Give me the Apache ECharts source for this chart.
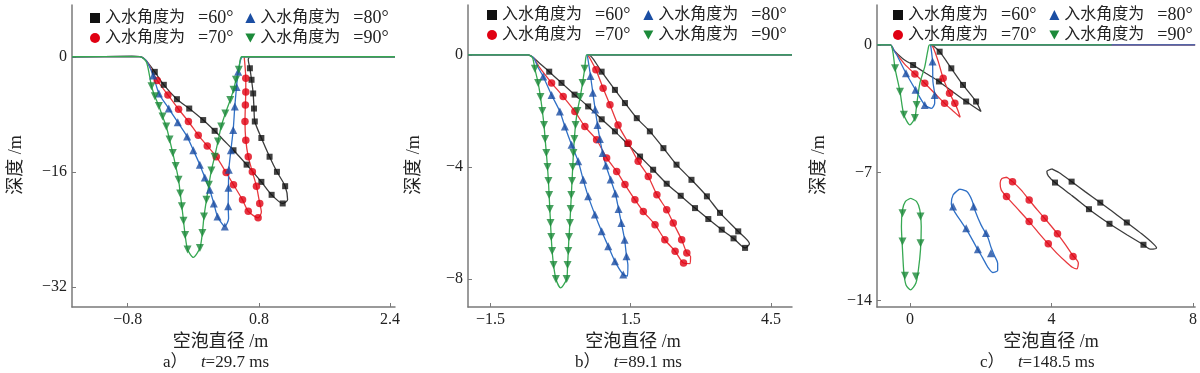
<!DOCTYPE html>
<html><head><meta charset="utf-8">
<script src="https://cdn.jsdelivr.net/npm/echarts@6/dist/echarts.min.js"></script>
<style>html,body{margin:0;padding:0;background:#fff}#c{width:1200px;height:373px}</style>
</head><body><div id="c"></div>
<script>
// ---------- tick labels ----------
const xTicksA = [-0.8, 0.8, 2.4];
const yTicksA = [0, -16, -32];
const xTicksB = [-1.5, 1.5, 4.5];
const yTicksB = [0, -4, -8];
const xTicksC = [0, 4, 8];
const yTicksC = [0, -7, -14];

const seriesNames = ['入水角度为 =60°', '入水角度为 =70°', '入水角度为 =80°', '入水角度为 =90°'];
const captions = ['a）', 'b）', 'c）'];
const times = ['29.7', '89.1', '148.5'];

// ---------- panel a: t = 29.7 ms ----------
const a60Line = [[-1.48,0],[-0.75,0.05],[-0.64,0],[-0.57,-0.6],[-0.47,-2.1],[-0.36,-3.9],[-0.2,-5.9],[-0.05,-7.2],[0.12,-8.8],[0.26,-10.3],[0.37,-11.6],[0.49,-13.0],[0.65,-15.0],[0.83,-17.4],[0.955,-19.2],[1.09,-20.4],[1.15,-19.9],[1.12,-18.0],[1.02,-16.0],[0.93,-13.9],[0.83,-11.3],[0.75,-9.0],[0.74,-7.2],[0.73,-5.1],[0.71,-3.2],[0.69,-1.6],[0.67,-0.4],[0.69,0],[2.46,0]];
const a60Marks = [[-0.47,-2.1],[-0.36,-3.9],[-0.2,-5.9],[-0.05,-7.2],[0.12,-8.8],[0.26,-10.3],[0.49,-13.0],[0.65,-15.0],[0.83,-17.4],[0.955,-19.2],[1.09,-20.4],[1.12,-18.0],[1.02,-16.0],[0.93,-13.9],[0.83,-11.3],[0.75,-9.0],[0.74,-7.2],[0.73,-5.1],[0.71,-3.2],[0.69,-1.6]];
const a70Line = [[-1.48,0],[-0.75,0.05],[-0.64,0],[-0.57,-0.6],[-0.44,-3.3],[-0.31,-5.3],[-0.18,-7.3],[-0.06,-9.0],[0.06,-10.9],[0.17,-12.4],[0.28,-13.9],[0.4,-16.1],[0.49,-17.8],[0.6,-19.9],[0.67,-21.5],[0.79,-22.4],[0.83,-21.6],[0.81,-20.4],[0.77,-18.0],[0.72,-16.0],[0.67,-13.9],[0.64,-11.6],[0.63,-9.0],[0.635,-6.7],[0.64,-4.9],[0.64,-3.0],[0.63,-1.2],[0.62,0],[2.46,0]];
const a70Marks = [[-0.44,-3.3],[-0.31,-5.3],[-0.18,-7.3],[-0.06,-9.0],[0.06,-10.9],[0.17,-12.4],[0.28,-13.9],[0.4,-16.1],[0.49,-17.8],[0.6,-19.9],[0.67,-21.5],[0.79,-22.4],[0.81,-20.4],[0.77,-18.0],[0.72,-16.0],[0.67,-13.9],[0.64,-11.6],[0.63,-9.0],[0.635,-6.7],[0.64,-4.9],[0.64,-3.0]];
const a80Line = [[-1.48,0],[-0.75,0.05],[-0.64,0],[-0.57,-0.6],[-0.49,-2.6],[-0.42,-5.1],[-0.3,-7.2],[-0.19,-9.1],[-0.076,-11.1],[0.0,-13.0],[0.079,-15.0],[0.14,-16.8],[0.2,-18.5],[0.25,-20.4],[0.295,-22.2],[0.384,-23.6],[0.43,-22.5],[0.425,-20.8],[0.428,-18.2],[0.433,-15.7],[0.458,-13.0],[0.486,-10.2],[0.506,-6.9],[0.527,-4.2],[0.547,-2.1],[0.575,-0.5],[0.6,0],[2.46,0]];
const a80Marks = [[-0.49,-2.6],[-0.42,-5.1],[-0.3,-7.2],[-0.19,-9.1],[-0.076,-11.1],[0.0,-13.0],[0.079,-15.0],[0.14,-16.8],[0.2,-18.5],[0.25,-20.4],[0.295,-22.2],[0.384,-23.6],[0.425,-20.8],[0.428,-18.2],[0.433,-15.7],[0.458,-13.0],[0.486,-10.2],[0.506,-6.9],[0.527,-4.2],[0.547,-2.1]];
const a90Line = [[-1.48,0],[-0.75,0.05],[-0.64,0],[-0.57,-0.8],[-0.51,-4.1],[-0.47,-5.5],[-0.42,-6.85],[-0.375,-8.3],[-0.33,-9.7],[-0.29,-11.5],[-0.25,-13.4],[-0.215,-15.2],[-0.18,-17.1],[-0.16,-19.0],[-0.14,-20.8],[-0.12,-22.8],[-0.1,-24.8],[-0.07,-26.8],[0.0,-27.9],[0.08,-26.6],[0.11,-24.5],[0.13,-22.2],[0.16,-19.9],[0.19,-17.8],[0.22,-15.8],[0.26,-13.9],[0.3,-11.8],[0.34,-9.7],[0.39,-7.9],[0.45,-6.0],[0.49,-4.6],[0.52,-3.2],[0.555,-1.8],[0.57,-0.5],[0.59,0],[2.46,0]];
const a90Marks = [[-0.51,-4.1],[-0.47,-5.5],[-0.42,-6.85],[-0.375,-8.3],[-0.33,-9.7],[-0.29,-11.5],[-0.25,-13.4],[-0.215,-15.2],[-0.18,-17.1],[-0.16,-19.0],[-0.14,-20.8],[-0.12,-22.8],[-0.1,-24.8],[-0.07,-26.8],[0.08,-26.6],[0.11,-24.5],[0.13,-22.2],[0.16,-19.9],[0.19,-17.8],[0.22,-15.8],[0.26,-13.9],[0.3,-11.8],[0.34,-9.7],[0.39,-7.9],[0.45,-6.0],[0.49,-4.6],[0.52,-3.2],[0.555,-1.8]];

// ---------- panel b: t = 89.1 ms ----------
const b60Line = [[-1.98,0],[-0.7,0],[-0.58,-0.1],[-0.45,-0.3],[-0.243,-0.6],[0.02,-1.0],[0.3,-1.42],[0.59,-1.84],[0.88,-2.3],[1.163,-2.73],[1.43,-3.18],[1.7,-3.63],[1.98,-4.1],[2.27,-4.6],[2.57,-5.03],[2.876,-5.47],[3.16,-5.86],[3.447,-6.24],[3.7,-6.55],[3.946,-6.89],[4.04,-6.74],[3.8,-6.3],[3.41,-5.64],[3.13,-5.05],[2.8,-4.46],[2.48,-3.92],[2.2,-3.33],[1.91,-2.73],[1.63,-2.26],[1.377,-1.72],[1.163,-1.25],[0.878,-0.6],[0.7,-0.15],[0.62,0],[4.95,0]];
const b60Marks = [[-0.243,-0.6],[0.02,-1.0],[0.3,-1.42],[0.59,-1.84],[0.88,-2.3],[1.163,-2.73],[1.43,-3.18],[1.7,-3.63],[1.98,-4.1],[2.27,-4.6],[2.57,-5.03],[2.876,-5.47],[3.16,-5.86],[3.447,-6.24],[3.7,-6.55],[3.946,-6.89],[3.8,-6.3],[3.41,-5.64],[3.13,-5.05],[2.8,-4.46],[2.48,-3.92],[2.2,-3.33],[1.91,-2.73],[1.63,-2.26],[1.377,-1.72],[1.163,-1.25],[0.878,-0.6]];
const b70Line = [[-1.98,0],[-0.7,0],[-0.58,-0.1],[-0.45,-0.45],[-0.193,-1.0],[0.056,-1.49],[0.306,-2.02],[0.52,-2.56],[0.77,-3.03],[0.985,-3.68],[1.2,-4.16],[1.377,-4.63],[1.59,-5.17],[1.77,-5.59],[2.02,-6.06],[2.23,-6.6],[2.45,-7.01],[2.63,-7.43],[2.77,-7.45],[2.78,-7.2],[2.7,-7.07],[2.59,-6.6],[2.41,-6.0],[2.27,-5.53],[2.06,-4.99],[1.876,-4.34],[1.66,-3.8],[1.45,-3.15],[1.23,-2.5],[1.056,-1.78],[0.91,-1.19],[0.756,-0.53],[0.62,-0.1],[0.58,0],[4.95,0]];
const b70Marks = [[-0.193,-1.0],[0.056,-1.49],[0.306,-2.02],[0.52,-2.56],[0.77,-3.03],[0.985,-3.68],[1.2,-4.16],[1.377,-4.63],[1.59,-5.17],[1.77,-5.59],[2.02,-6.06],[2.23,-6.6],[2.45,-7.01],[2.63,-7.43],[2.7,-7.07],[2.59,-6.6],[2.41,-6.0],[2.27,-5.53],[2.06,-4.99],[1.876,-4.34],[1.66,-3.8],[1.45,-3.15],[1.23,-2.5],[1.056,-1.78],[0.91,-1.19],[0.756,-0.53]];
const b80Line = [[-1.98,0],[-0.7,0],[-0.58,-0.1],[-0.48,-0.45],[-0.372,-0.77],[-0.193,-1.43],[-0.015,-2.02],[0.092,-2.56],[0.235,-3.21],[0.377,-3.8],[0.485,-4.46],[0.591,-5.05],[0.734,-5.7],[0.878,-6.3],[1.02,-6.83],[1.163,-7.37],[1.34,-7.84],[1.43,-7.9],[1.44,-7.5],[1.41,-7.19],[1.37,-6.6],[1.3,-6.0],[1.24,-5.5],[1.17,-4.95],[1.07,-4.45],[0.97,-3.95],[0.9,-3.5],[0.84,-3.0],[0.79,-2.5],[0.74,-1.95],[0.69,-1.35],[0.64,-0.75],[0.58,-0.1],[0.56,0],[4.95,0]];
const b80Marks = [[-0.372,-0.77],[-0.193,-1.43],[-0.015,-2.02],[0.092,-2.56],[0.235,-3.21],[0.377,-3.8],[0.485,-4.46],[0.591,-5.05],[0.734,-5.7],[0.878,-6.3],[1.02,-6.83],[1.163,-7.37],[1.34,-7.84],[1.41,-7.19],[1.37,-6.6],[1.3,-6.0],[1.24,-5.5],[1.17,-4.95],[1.07,-4.45],[0.97,-3.95],[0.9,-3.5],[0.84,-3.0],[0.79,-2.5],[0.74,-1.95],[0.69,-1.35],[0.64,-0.75]];
const b90Line = [[-1.98,0],[-0.7,0],[-0.6,-0.1],[-0.55,-0.5],[-0.48,-1.0],[-0.43,-1.5],[-0.39,-2.0],[-0.355,-2.5],[-0.33,-3.0],[-0.305,-3.5],[-0.28,-4.0],[-0.26,-4.5],[-0.245,-5.0],[-0.23,-5.5],[-0.215,-6.0],[-0.2,-6.5],[-0.18,-7.0],[-0.15,-7.5],[-0.1,-8.0],[0.0,-8.32],[0.13,-8.0],[0.15,-7.5],[0.165,-7.0],[0.18,-6.5],[0.2,-6.0],[0.215,-5.5],[0.23,-5.0],[0.245,-4.5],[0.26,-4.0],[0.275,-3.5],[0.295,-3.0],[0.32,-2.5],[0.36,-2.0],[0.42,-1.5],[0.47,-1.0],[0.515,-0.5],[0.54,-0.1],[0.56,0],[4.95,0]];
const b90Marks = [[-0.55,-0.5],[-0.48,-1.0],[-0.43,-1.5],[-0.39,-2.0],[-0.355,-2.5],[-0.33,-3.0],[-0.305,-3.5],[-0.28,-4.0],[-0.26,-4.5],[-0.245,-5.0],[-0.23,-5.5],[-0.215,-6.0],[-0.2,-6.5],[-0.18,-7.0],[-0.15,-7.5],[-0.1,-8.0],[0.13,-8.0],[0.15,-7.5],[0.165,-7.0],[0.18,-6.5],[0.2,-6.0],[0.215,-5.5],[0.23,-5.0],[0.245,-4.5],[0.26,-4.0],[0.275,-3.5],[0.295,-3.0],[0.32,-2.5],[0.36,-2.0],[0.42,-1.5],[0.47,-1.0],[0.515,-0.5]];

// ---------- panel c: t = 148.5 ms (attached cavity) ----------
const c60Line = [[-0.93,0],[-0.55,0],[-0.45,-0.3],[-0.2,-0.75],[0.09,-1.1],[0.45,-1.55],[0.82,-2.0],[1.2,-2.55],[1.59,-3.1],[2.01,-3.65],[1.87,-3.1],[1.5,-2.19],[1.17,-1.28],[0.84,-0.37],[0.66,-0.05],[0.62,0],[8.06,0]];
const c60Marks = [[0.09,-1.1],[0.82,-2.0],[1.59,-3.1],[1.87,-3.1],[1.5,-2.19],[1.17,-1.28],[0.84,-0.37]];
const c70Line = [[-0.93,0],[-0.55,0],[-0.45,-0.3],[-0.15,-1.05],[0.14,-1.59],[0.42,-2.1],[0.7,-2.65],[0.98,-3.2],[1.22,-3.62],[1.42,-3.96],[1.36,-3.6],[1.27,-3.2],[1.12,-2.65],[0.94,-1.83],[0.8,-0.9],[0.66,-0.15],[0.6,0],[8.06,0]];
const c70Marks = [[0.14,-1.59],[0.42,-2.1],[0.98,-3.2],[1.27,-3.2],[1.12,-2.65],[0.94,-1.83]];
const c80Line = [[-0.93,0],[-0.55,0],[-0.45,-0.3],[-0.37,-0.55],[-0.11,-1.55],[0.16,-2.46],[0.42,-3.29],[0.61,-3.47],[0.7,-3.2],[0.7,-2.74],[0.65,-2.0],[0.64,-0.91],[0.6,-0.2],[0.58,0],[8.06,0]];
const c80Marks = [[-0.11,-1.55],[0.16,-2.46],[0.42,-3.29],[0.7,-2.74],[0.64,-0.91]];
const c90Line = [[-0.93,0],[-0.55,0],[-0.48,-0.4],[-0.42,-1.28],[-0.28,-2.56],[-0.17,-3.83],[0,-4.38],[0.14,-4.0],[0.19,-3.29],[0.28,-2.1],[0.42,-1.19],[0.51,-0.27],[0.56,0],[5.7,0]];
const c90Marks = [[-0.42,-1.28],[-0.28,-2.56],[-0.17,-3.83],[0.14,-4.0],[0.19,-3.29]];

// ---------- panel c: detached bubbles ----------
const c60Bubble = [[4.01,-6.79],[4.21,-6.99],[4.57,-7.49],[4.96,-8.05],[5.38,-8.64],[5.76,-9.18],[6.13,-9.73],[6.55,-10.35],[6.88,-10.9],[6.97,-11.13],[6.79,-11.19],[6.6,-10.95],[6.13,-10.4],[5.64,-9.8],[5.34,-9.4],[5.06,-9.0],[4.59,-8.27],[4.1,-7.54],[3.91,-7.17],[3.87,-6.94],[4.01,-6.79]];
const c60BubbleMarks = [[4.1,-7.54],[4.57,-7.49],[5.38,-8.64],[5.06,-9.0],[6.13,-9.73],[5.64,-9.8],[6.6,-10.95]];
const c70Bubble = [[2.74,-7.25],[2.9,-7.49],[3.14,-7.94],[3.37,-8.49],[3.6,-9.04],[3.86,-9.62],[4.17,-10.35],[4.4,-10.95],[4.59,-11.5],[4.76,-11.95],[4.72,-12.27],[4.59,-12.18],[4.4,-11.87],[4.17,-11.45],[3.91,-10.9],[3.63,-10.28],[3.37,-9.68],[3.0,-8.89],[2.73,-8.31],[2.58,-7.94],[2.55,-7.58],[2.6,-7.32],[2.74,-7.25]];
const c70BubbleMarks = [[2.9,-7.49],[2.73,-8.31],[3.37,-8.49],[3.8,-9.49],[3.37,-9.68],[4.17,-10.35],[3.91,-10.9],[4.61,-11.59]];
const c80Bubble = [[1.4,-7.9],[1.61,-8.03],[1.75,-8.49],[1.85,-9.13],[2.01,-9.86],[2.2,-10.54],[2.3,-11.13],[2.39,-11.55],[2.48,-11.96],[2.48,-12.36],[2.34,-12.47],[2.2,-12.17],[2.06,-11.68],[1.87,-11.05],[1.66,-10.31],[1.45,-9.68],[1.26,-9.13],[1.17,-8.71],[1.22,-8.22],[1.4,-7.9]];
const c80BubbleMarks = [[1.22,-8.85],[1.8,-8.85],[1.59,-10.04],[2.15,-10.31],[1.92,-11.19],[2.29,-11.41]];
const c90Bubble = [[0.02,-8.4],[0.19,-8.58],[0.28,-9.04],[0.32,-9.95],[0.3,-11.2],[0.24,-12.32],[0.17,-13.05],[0.02,-13.42],[-0.11,-13.15],[-0.17,-12.5],[-0.21,-11.2],[-0.24,-9.95],[-0.21,-9.04],[-0.13,-8.58],[0.02,-8.4]];
const c90BubbleMarks = [[-0.21,-9.22],[0.3,-9.4],[-0.21,-10.77],[0.3,-10.86],[-0.14,-12.65],[0.17,-12.69]];

// ---------- styling / layout ----------
const SERIF = '"Liberation Serif","Times New Roman","Noto Sans CJK SC",serif';
const lineColors = ['#3c3c3c', '#e8383d', '#2f70c6', '#36a852'];
const markColors = ['#111111', '#e00012', '#1b4ea3', '#1c8a3a'];
const symbols = ['rect', 'circle', 'triangle', 'triangle'];
const symbolRot = [0, 0, 0, 180];
const symbolSizes = [6, 7.5, 8, 8];
const legendIcons = ['rect', 'circle', 'triangle', 'path://M0,0L10,0L5,9Z'];

const grids = [
  {left: 72, top: 5, width: 323, height: 302},
  {left: 468, top: 5, width: 324, height: 302},
  {left: 877, top: 5, width: 320, height: 302}
];
const xRanges = [[-1.48, 2.46], [-1.98, 4.95], [-0.93, 8.06]];
const yRanges = [[-34.8, 7.2], [-9.0, 1.78], [-14.36, 2.19]];
const xTicks = [xTicksA, xTicksB, xTicksC];
const yTicks = [yTicksA, yTicksB, yTicksC];
const xNamePad = [[0, 26, 0, 0], [0, 0, 0, 6], [0, 0, 0, 30]];
const yNameGap = [47, 45, 49];
const panelLines = [[a60Line, a70Line, a80Line, a90Line], [b60Line, b70Line, b80Line, b90Line], [c60Line, c70Line, c80Line, c90Line]];
const panelMarks = [[a60Marks, a70Marks, a80Marks, a90Marks], [b60Marks, b70Marks, b80Marks, b90Marks], [c60Marks, c70Marks, c80Marks, c90Marks]];
const bubbleLines = [c60Bubble, c70Bubble, c80Bubble, c90Bubble];
const bubbleMarks = [c60BubbleMarks, c70BubbleMarks, c80BubbleMarks, c90BubbleMarks];

const minus = v => String(v).replace('-', '\u2212');
const axisGray = '#7a7a7a';

const xAxis = grids.map((g, i) => ({
  type: 'value', gridIndex: i, min: xRanges[i][0], max: xRanges[i][1],
  name: '空泡直径 /m', nameLocation: 'middle', nameGap: 24,
  nameTextStyle: {fontSize: 18, color: '#222', fontFamily: SERIF, padding: xNamePad[i]},
  axisLine: {show: true, onZero: false, lineStyle: {color: axisGray, width: 1.5}},
  axisTick: {show: true, inside: true, length: 4, customValues: xTicks[i], lineStyle: {color: axisGray}},
  axisLabel: {customValues: xTicks[i], formatter: minus, fontSize: 16, color: '#222', fontFamily: SERIF, margin: 5},
  splitLine: {show: false}
}));
const yAxis = grids.map((g, i) => ({
  type: 'value', gridIndex: i, min: yRanges[i][0], max: yRanges[i][1],
  name: '深度 /m', nameLocation: 'middle', nameGap: yNameGap[i],
  nameTextStyle: {fontSize: 18, color: '#222', fontFamily: SERIF, padding: [0, 18, 0, 0]},
  axisLine: {show: true, onZero: false, lineStyle: {color: axisGray, width: 1.5}},
  axisTick: {show: true, inside: true, length: 4, customValues: yTicks[i], lineStyle: {color: axisGray}},
  axisLabel: {customValues: yTicks[i], formatter: minus, fontSize: 16, color: '#222', fontFamily: SERIF, margin: 5},
  splitLine: {show: false}
}));

const series = [];
function addCurve(p, k, data, marks) {
  series.push({
    name: seriesNames[k], type: 'line', xAxisIndex: p, yAxisIndex: p, data: data,
    symbol: 'none', smooth: 0.25, animation: false, silent: true,
    lineStyle: {color: lineColors[k], width: 1.3}, z: 2 + k
  });
  series.push({
    name: seriesNames[k], type: 'scatter', xAxisIndex: p, yAxisIndex: p, data: marks,
    symbol: symbols[k], symbolRotate: symbolRot[k], symbolSize: symbolSizes[k], animation: false, silent: true,
    itemStyle: {color: markColors[k]}, z: 10 + k
  });
}
for (let p = 0; p < 3; p++) {
  for (let k = 0; k < 4; k++) addCurve(p, k, panelLines[p][k], panelMarks[p][k]);
}
for (let k = 0; k < 4; k++) addCurve(2, k, bubbleLines[k], bubbleMarks[k]);

// legends: 2 rows per panel
const legendPos = [
  {left: 85, tops: [4, 24], gap: 12},
  {left: 482, tops: [1, 21], gap: 13},
  {left: 888, tops: [1, 21], gap: 13}
];
const rows = [[0, 2], [1, 3]];
const legend = [];
legendPos.forEach(lp => {
  rows.forEach((r, ri) => {
    legend.push({
      left: lp.left, top: lp.tops[ri], orient: 'horizontal', itemGap: lp.gap,
      itemWidth: 10, itemHeight: 10, selectedMode: false,
      formatter: name => {
        const parts = name.split(' ');
        return '{c|' + parts[0] + '}{n|' + parts[1] + '}';
      },
      textStyle: {
        fontSize: 16, color: '#222', fontFamily: SERIF,
        rich: {
          c: {fontSize: 16, color: '#222', fontFamily: SERIF},
          n: {fontSize: 18, color: '#222', fontFamily: SERIF, padding: [0, 0, 0, 13]}
        }
      },
      data: r.map(k => ({name: seriesNames[k], icon: legendIcons[k], itemStyle: {color: markColors[k]}}))
    });
  });
});

const capLeft = [163, 575, 980];
const graphic = capLeft.map((x, i) => ({
  type: 'text', left: x, top: 354,
  style: {
    text: '{n|' + captions[i] + '}    {i|t}{n|=' + times[i] + ' ms}',
    rich: {
      n: {fontSize: 17, fontFamily: SERIF, fill: '#222', color: '#222'},
      i: {fontSize: 17, fontFamily: SERIF, fontStyle: 'italic', fill: '#222', color: '#222'}
    }
  }
}));

const chart = echarts.init(document.getElementById('c'), null, {renderer: 'canvas'});
chart.setOption({
  animation: false, backgroundColor: '#fff',
  grid: grids, xAxis: xAxis, yAxis: yAxis, legend: legend, series: series, graphic: graphic
});
</script></body></html>
